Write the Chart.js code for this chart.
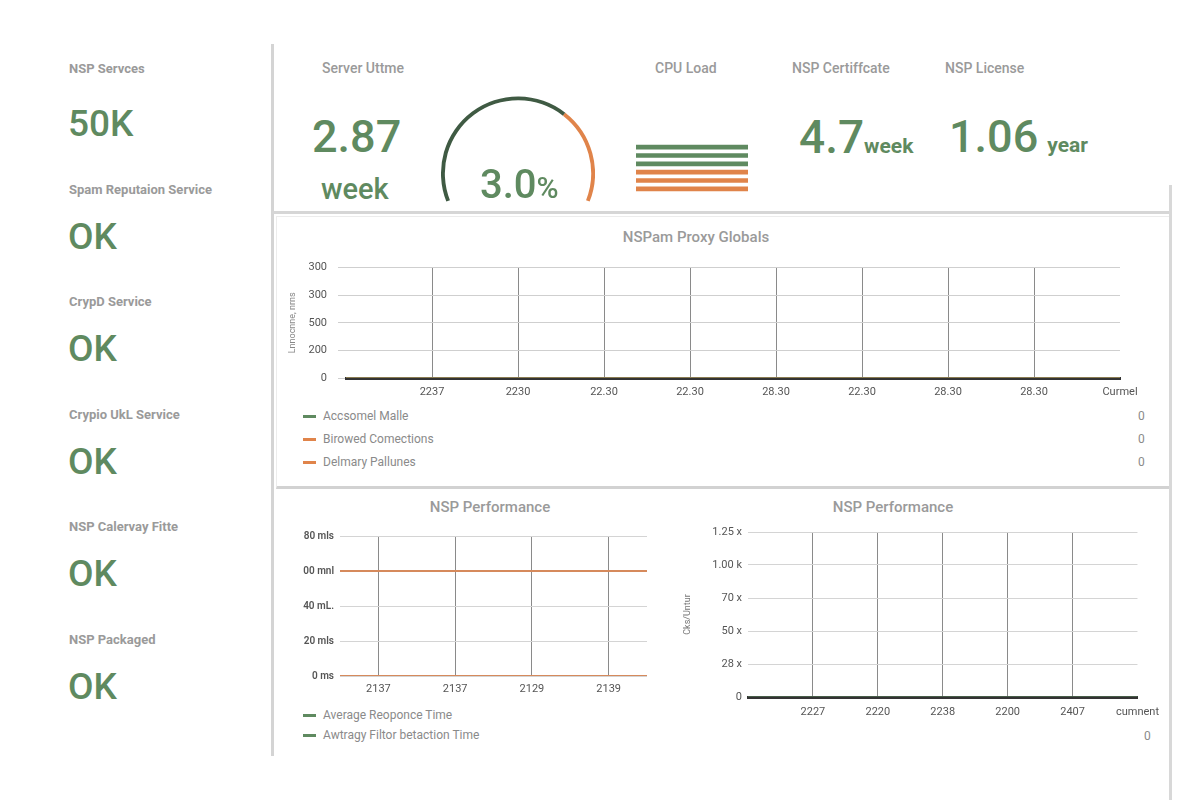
<!DOCTYPE html>
<html>
<head>
<meta charset="utf-8">
<title>NSP Dashboard</title>
<script src="https://cdn.jsdelivr.net/npm/chart.js@4.4.1/dist/chart.umd.min.js"></script>
<style>
  html, body { margin: 0; padding: 0; }
  body { width: 1200px; height: 800px; background: #fff; position: relative; overflow: hidden; font-family: Roboto, "Liberation Sans", sans-serif; }
  .abs { position: absolute; white-space: nowrap; line-height: 1; }
  .lbl { color: #9a9a9a; font-size: 13px; font-weight: 700; }
  .big { color: #5f8a60; font-weight: 500; }
  .ttl { color: #9a9a9a; font-size: 15px; font-weight: 500; }
  .leg { color: #8a8a8a; font-size: 12px; }
  .sw { position: absolute; width: 13px; height: 3px; }
  .box { position: absolute; }
</style>
</head>
<body>

<!-- panel frames -->
<div class="box" style="left:271px;top:44px;width:3px;height:712px;background:#d4d4d4"></div>
<div class="box" style="left:272px;top:211px;width:900px;height:3px;background:#d6d6d6"></div>
<div class="box" style="left:276px;top:216px;width:893px;height:269px;border:1px solid #ececec;border-bottom:3px solid #d2d2d2"></div>
<div class="box" style="left:1169px;top:185px;width:3px;height:615px;background:#d8d8d8"></div>

<div id="tiles"></div>

<!-- top stats -->
<div class="abs lbl" style="left:322px;top:61px;font-size:14px;font-weight:500">Server Uttme</div>
<div class="abs big" style="left:312px;top:114px;font-size:45px">2.87</div>
<div class="abs big" style="left:321px;top:175px;font-size:29px">week</div>

<div class="box" style="left:441px;top:96px;width:154px;height:106px"><canvas id="gauge"></canvas></div>
<div class="abs big" style="left:480px;top:165px;font-size:40px">3.0<span style="font-size:30px">%</span></div>

<div class="abs lbl" style="left:655px;top:61px;font-size:14px;font-weight:500">CPU Load</div>
<div class="box" style="left:636px;top:143px;width:112px;height:50px"><canvas id="cpu"></canvas></div>

<div class="abs lbl" style="left:792px;top:61px;font-size:14px;font-weight:500">NSP Certiffcate</div>
<div class="abs big" style="left:799px;top:114px;font-size:46px">4.7<span style="font-size:21px;font-weight:700">week</span></div>
<div class="abs lbl" style="left:945px;top:61px;font-size:14px;font-weight:500">NSP License</div>
<div class="abs big" style="left:949px;top:114px;font-size:45px">1.06<span style="font-size:21px;font-weight:700;margin-left:9px">year</span></div>

<!-- proxy chart -->
<div class="abs ttl" style="left:0;width:1392px;text-align:center;top:230px">NSPam Proxy Globals</div>
<div class="box" style="left:285px;top:250px;width:865px;height:152px"><canvas id="proxy"></canvas></div>
<div id="proxyLegend"></div>

<!-- performance charts -->
<div class="abs ttl" style="left:0;width:980px;text-align:center;top:500px">NSP Performance</div>
<div class="box" style="left:282px;top:522px;width:375px;height:178px"><canvas id="perf"></canvas></div>
<div id="perfLegend"></div>

<div class="abs ttl" style="left:0;width:1786px;text-align:center;top:500px">NSP Performance</div>
<div class="box" style="left:680px;top:518px;width:488px;height:203px"><canvas id="load"></canvas></div>
<div class="abs leg" style="left:1144px;top:730px">0</div>

<script>
/* ---- data --------------------------------------------------------------- */
const serviceNames = ["NSP Servces", "Spam Reputaion Service", "CrypD Service", "Crypio UkL Service", "NSP Calervay Fitte", "NSP Packaged"];
const serviceValues = ["50K", "OK", "OK", "OK", "OK", "OK"];

const gaugeSegments = [67, 33];

const cpuCores = ["core 1", "core 2", "core 3", "core 4", "core 5", "core 6"];
const cpuLoad = [100, 100, 100, 100, 100, 100];

const proxyLabels = ["", "2237", "2230", "22.30", "22.30", "28.30", "22.30", "28.30", "28.30", "Curmel"];
const proxyTicks = ["0", "200", "500", "300", "300"];
const proxySeries = ["Accsomel Malle", "Birowed Comections", "Delmary Pallunes"];
const acceptedMail = [0, 0, 0, 0, 0, 0, 0, 0, 0, 0];
const brokenConnections = [0, 0, 0, 0, 0, 0, 0, 0, 0, 0];
const deliveryFailures = [0, 0, 0, 0, 0, 0, 0, 0, 0, 0];
const proxyCurrent = [0, 0, 0];

const perfLabels = ["2137", "2137", "2129", "2139"];
const perfTicks = ["0 ms", "20 mls", "40 mL.", "00 mnl", "80 mls"];
const perfSeries = ["Average Reoponce Time", "Awtragy Filtor betaction Time"];
const avgResponse = [60, 60, 60, 60];
const avgFilter = [0, 0, 0, 0];

const loadLabels = ["", "2227", "2220", "2238", "2200", "2407", "cumnent"];
const loadTicks = ["0", "28 x", "50 x", "70 x", "1.00 k", "1.25 x"];
const loadValues = [0, 0, 0, 0, 0, 0, 0];

/* ---- palette ------------------------------------------------------------ */
const GREEN = "#5f8a60";
const DARK_GREEN = "#3f5a43";
const ORANGE = "#e0844a";
const LINE_ORANGE = "#d68a5c";

Chart.defaults.font.family = "Roboto, 'Liberation Sans', sans-serif";
Chart.defaults.animation = false;
Chart.defaults.plugins.legend.display = false;
Chart.defaults.plugins.tooltip.enabled = false;

/* ---- left status tiles -------------------------------------------------- */
const labelTops = [62, 183, 295, 408, 520, 633];
const valueTops = [105, 218, 330, 443, 555, 668];
document.getElementById("tiles").innerHTML = serviceNames.map((n, i) =>
  `<div class="abs lbl" style="left:69px;top:${labelTops[i]}px">${n}</div>
   <div class="abs big" style="left:68px;top:${valueTops[i]}px;font-size:37px">${serviceValues[i]}</div>`
).join("");

/* ---- html legends ------------------------------------------------------- */
const proxyColors = [GREEN, ORANGE, ORANGE];
document.getElementById("proxyLegend").innerHTML = proxySeries.map((n, i) => {
  const y = 410 + i * 23;
  return `<div class="sw" style="left:303px;top:${y + 5}px;background:${proxyColors[i]}"></div>
          <div class="abs leg" style="left:323px;top:${y}px">${n}</div>
          <div class="abs leg" style="left:1138px;top:${y}px">${proxyCurrent[i]}</div>`;
}).join("");
document.getElementById("perfLegend").innerHTML = perfSeries.map((n, i) => {
  const y = 709 + i * 20;
  return `<div class="sw" style="left:303px;top:${y + 5}px;background:${GREEN}"></div>
          <div class="abs leg" style="left:323px;top:${y}px">${n}</div>`;
}).join("");

/* ---- gauge -------------------------------------------------------------- */
new Chart(document.getElementById("gauge"), {
  type: "doughnut",
  data: { labels: ["used", "rest"], datasets: [{ data: gaugeSegments, backgroundColor: [DARK_GREEN, ORANGE], borderWidth: 0, hoverOffset: 0 }] },
  options: { responsive: true, maintainAspectRatio: false, rotation: -111.5, circumference: 223, cutout: "95%", layout: { padding: 0 } }
});

/* ---- cpu bars ----------------------------------------------------------- */
new Chart(document.getElementById("cpu"), {
  type: "bar",
  data: {
    labels: cpuCores,
    datasets: [{ data: cpuLoad, backgroundColor: [GREEN, GREEN, GREEN, ORANGE, ORANGE, ORANGE], barThickness: 4, borderWidth: 0 }]
  },
  options: {
    indexAxis: "y", responsive: true, maintainAspectRatio: false, layout: { padding: 0 },
    scales: { x: { display: false, min: 0, max: 100 }, y: { display: false } }
  }
});

/* ---- shared axis helpers ------------------------------------------------ */
const hideEnds = (n) => (ctx) => (ctx.index === 0 || ctx.index === n - 1) ? "rgba(0,0,0,0)" : "#8a8a8a";
const tickFont = { size: 11 };

/* ---- proxy globals ------------------------------------------------------ */
new Chart(document.getElementById("proxy"), {
  type: "line",
  data: {
    labels: proxyLabels,
    datasets: [
      { label: proxySeries[0], data: acceptedMail, borderColor: GREEN, borderWidth: 1, pointRadius: 0 },
      { label: proxySeries[1], data: brokenConnections, borderColor: ORANGE, borderWidth: 1, pointRadius: 0 },
      { label: proxySeries[2], data: deliveryFailures, borderColor: ORANGE, borderWidth: 1, pointRadius: 0 }
    ]
  },
  options: {
    responsive: true, maintainAspectRatio: false,
    layout: { padding: { top: 14, right: 30, left: 0, bottom: 0 } },
    scales: {
      x: {
        z: 1,
        grid: { color: hideEnds(proxyLabels.length), lineWidth: 1, drawTicks: false },
        border: { color: "#333", width: 3 },
        ticks: { color: "#555", font: tickFont, padding: 8, autoSkip: false, maxRotation: 0 },
        afterFit: (s) => { s.height = 24; }
      },
      y: {
        min: 0, max: 400,
        grid: { color: "#cfcfcf", tickLength: 8 },
        border: { display: false },
        ticks: { stepSize: 100, color: "#555", font: tickFont, padding: 11, callback: (v, i) => proxyTicks[i] },
        title: { display: true, text: "Lnnocnne, nrns", color: "#888", font: { size: 9 }, padding: 2 },
        afterFit: (s) => { s.width = 61; }
      }
    }
  }
});

/* ---- performance (ms) --------------------------------------------------- */
const toPoints = (arr) => arr.map((v, i) => ({ x: i, y: v }));
new Chart(document.getElementById("perf"), {
  type: "line",
  data: {
    labels: perfLabels,
    datasets: [
      { label: perfSeries[0], data: toPoints(avgResponse), xAxisID: "xs", borderColor: LINE_ORANGE, borderWidth: 2, pointRadius: 0 },
      { label: perfSeries[1], data: toPoints(avgFilter), xAxisID: "xs", borderColor: LINE_ORANGE, borderWidth: 2, pointRadius: 0 }
    ]
  },
  options: {
    responsive: true, maintainAspectRatio: false,
    layout: { padding: { top: 14, right: 10, left: 0, bottom: 0 } },
    scales: {
      x: {
        type: "category", offset: true,
        grid: { color: "#8a8a8a", drawTicks: false },
        border: { display: false },
        ticks: { color: "#555", font: tickFont, padding: 7, maxRotation: 0 },
        afterFit: (s) => { s.height = 24; }
      },
      xs: { type: "linear", display: false, min: 0, max: avgResponse.length - 1 },
      y: {
        min: 0, max: 80,
        grid: { color: "#d4d4d4", drawTicks: false },
        border: { display: false },
        ticks: { stepSize: 20, color: "#555", font: { size: 10, weight: "600" }, padding: 6, callback: (v, i) => perfTicks[i] },
        afterFit: (s) => { s.width = 58; }
      }
    }
  }
});

/* ---- performance (load) ------------------------------------------------- */
new Chart(document.getElementById("load"), {
  type: "line",
  data: {
    labels: loadLabels,
    datasets: [{ label: "load", data: loadValues, borderColor: GREEN, borderWidth: 1, pointRadius: 0 }]
  },
  options: {
    responsive: true, maintainAspectRatio: false,
    layout: { padding: { top: 14, right: 30, left: 0, bottom: 0 } },
    scales: {
      x: {
        z: 1,
        grid: { color: hideEnds(loadLabels.length), drawTicks: false },
        border: { color: "#333", width: 3 },
        ticks: { color: "#555", font: tickFont, padding: 9, autoSkip: false, maxRotation: 0 },
        afterFit: (s) => { s.height = 24; }
      },
      y: {
        min: 0, max: 125,
        grid: { color: "#d4d4d4", drawTicks: false },
        border: { display: false },
        ticks: { stepSize: 25, color: "#555", font: tickFont, padding: 6, callback: (v, i) => loadTicks[i] },
        title: { display: true, text: "Cks/Untur", color: "#777", font: { size: 9 }, padding: 2 },
        afterFit: (s) => { s.width = 68; }
      }
    }
  }
});
</script>
</body>
</html>
